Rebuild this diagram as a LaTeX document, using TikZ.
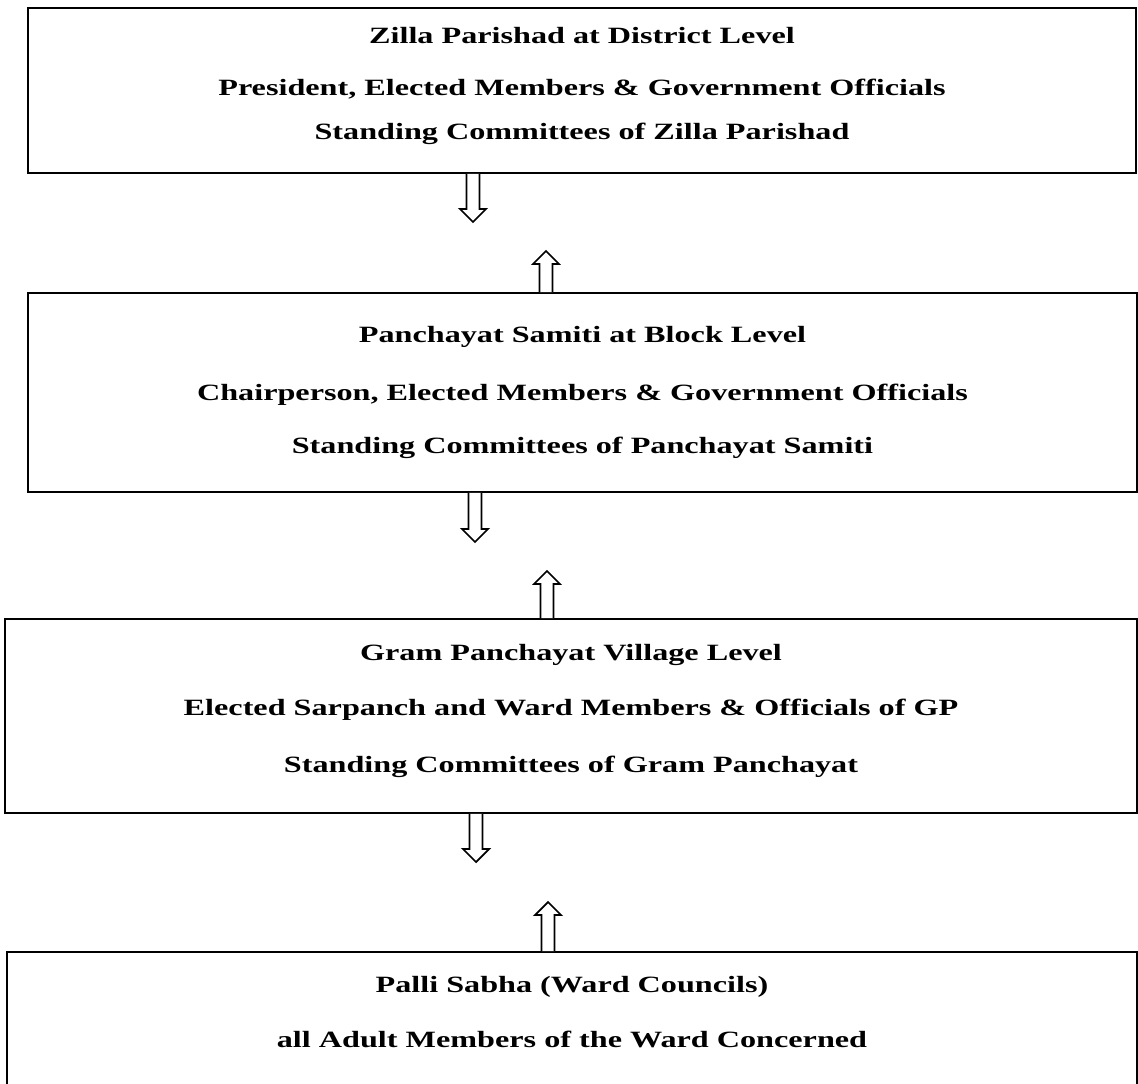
\documentclass[tikz,border=0pt]{standalone}
\usepackage{fontspec}
\setmainfont{Liberation Serif}[FakeStretch=1.38]
\usetikzlibrary{calc}

% hollow block arrows: #1 = tail point, #2 = tip
\newcommand{\hollowdown}[2]{%
	\draw [blockarrow] ($(#1)+(-6.5,0)$) -- ($(#2)+(-6.5,-13)$) -- ($(#2)+(-13,-13)$) -- (#2)
		-- ($(#2)+(13,-13)$) -- ($(#2)+(6.5,-13)$) -- ($(#1)+(6.5,0)$);}
\newcommand{\hollowup}[2]{%
	\draw [blockarrow] ($(#1)+(-6.5,0)$) -- ($(#2)+(-6.5,13)$) -- ($(#2)+(-13,13)$) -- (#2)
		-- ($(#2)+(13,13)$) -- ($(#2)+(6.5,13)$) -- ($(#1)+(6.5,0)$);}

\begin{document}
\begin{tikzpicture}[x=0.75pt,y=-0.75pt,
	levelbox/.style={draw=black,line width=1.4pt,inner sep=0pt},
	lbl/.style={anchor=base,inner sep=0pt,font=\bfseries\fontsize{17.5}{21}\selectfont},
	blockarrow/.style={draw=black,line width=1.3pt,line join=miter,fill=white}]
	\clip (0,0) rectangle (1138,1083);
	% levels
	\node [levelbox,minimum width=1108*0.75pt,minimum height=165*0.75pt] (zp) at (582,90.5) {};
	\node [levelbox,minimum width=1109*0.75pt,minimum height=199*0.75pt] (ps) at (582.5,392.5) {};
	\node [levelbox,minimum width=1132*0.75pt,minimum height=194*0.75pt] (gp) at (571,716) {};
	\node [levelbox,minimum width=1130*0.75pt,minimum height=143*0.75pt] (pl) at (572,1023.5) {};
	% texts
	\node [lbl] (zp1) at (zp.north |- 0,43) {Zilla Parishad at District Level};
	\node [lbl] (zp2) at (zp.north |- 0,95) {President, Elected Members \& Government Officials};
	\node [lbl] (zp3) at (zp.north |- 0,139) {Standing Committees of Zilla Parishad};
	\node [lbl] (ps1) at (ps.north |- 0,342) {Panchayat Samiti at Block Level};
	\node [lbl] (ps2) at (ps.north |- 0,400) {Chairperson, Elected Members \& Government Officials};
	\node [lbl] (ps3) at (ps.north |- 0,453) {Standing Committees of Panchayat Samiti};
	\node [lbl] (gp1) at (gp.north |- 0,660) {Gram Panchayat Village Level};
	\node [lbl] (gp2) at (gp.north |- 0,715) {Elected Sarpanch and Ward Members \& Officials of GP};
	\node [lbl] (gp3) at (gp.north |- 0,772) {Standing Committees of Gram Panchayat};
	\node [lbl] (pl1) at (pl.north |- 0,992) {Palli Sabha (Ward Councils)};
	\node [lbl] (pl2) at (pl.north |- 0,1047) {all Adult Members of the Ward Concerned};
	% arrow ends
	\coordinate (zpout) at (zp.south -| 473,0);
	\coordinate (zptip) at (473,222);
	\coordinate (psin) at (ps.north -| 546,0);
	\coordinate (psup) at (546,251);
	\coordinate (psout) at (ps.south -| 475,0);
	\coordinate (pstip) at (475,542);
	\coordinate (gpin) at (gp.north -| 547,0);
	\coordinate (gpup) at (547,571);
	\coordinate (gpout) at (gp.south -| 476,0);
	\coordinate (gptip) at (476,862);
	\coordinate (plin) at (pl.north -| 548,0);
	\coordinate (plup) at (548,902);
	% arrows
	\hollowdown{zpout}{zptip}
	\hollowup{psin}{psup}
	\hollowdown{psout}{pstip}
	\hollowup{gpin}{gpup}
	\hollowdown{gpout}{gptip}
	\hollowup{plin}{plup}
\end{tikzpicture}
\end{document}
